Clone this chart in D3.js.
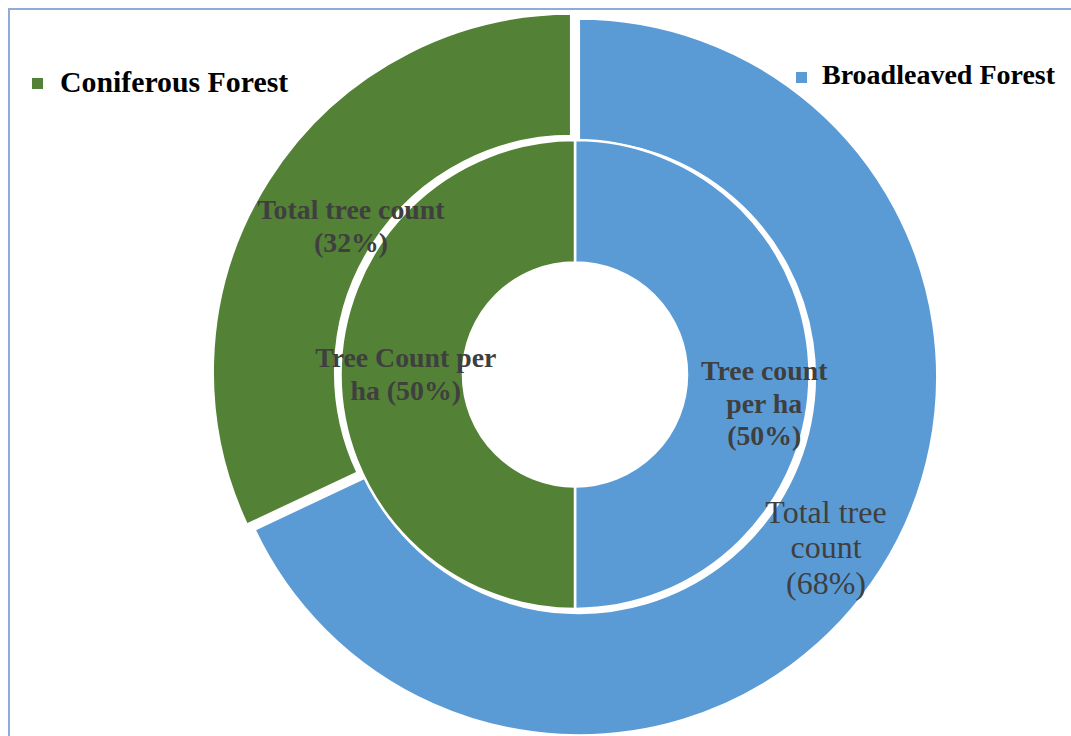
<!DOCTYPE html>
<html>
<head>
<meta charset="utf-8">
<script src="https://cdn.jsdelivr.net/npm/d3@7"></script>
<style>
  html, body { margin: 0; padding: 0; background: #fff; }
  svg { display: block; }
</style>
</head>
<body>
<svg id="chart" width="1071" height="736"></svg>
<script>
// ---- data ----
const categories = ["Broadleaved Forest", "Coniferous Forest"];
const innerValues = [50, 50];      // Tree count per ha (%)
const outerValues = [68, 32];      // Total tree count (%)
const innerLabels = [["Tree count", "per ha", "(50%)"], ["Tree Count per", "ha (50%)"]];
const outerLabels = [["Total tree", "count", "(68%)"], ["Total tree count", "(32%)"]];
const colors = ["#5b9bd5", "#538135"];

// ---- layout ----
const svg = d3.select("#chart");
const W = 1071, H = 736;
const cx = 575, cy = 374.5;
const rHole = 112, rInner = 234.5, rOuterIn = 236, rOuterOut = 358.5;
const explode = 4.5;
const textColor = "#3f3f3f";
const serif = "'Liberation Serif', 'Times New Roman', Times, serif";

// frame
svg.append("rect")
  .attr("x", 9).attr("y", 9)
  .attr("width", W + 20).attr("height", H + 20)
  .attr("fill", "none").attr("stroke", "#8faadc").attr("stroke-width", 2);

const pie = d3.pie().sort(null).value(d => d);
const color = d3.scaleOrdinal().domain(categories).range(colors);

const innerArcs = pie(innerValues);
const outerArcs = pie(outerValues);

const arcInner = d3.arc().innerRadius(rHole).outerRadius(rInner);
const arcOuter = d3.arc().innerRadius(rOuterIn).outerRadius(rOuterOut);

const g = svg.append("g").attr("transform", `translate(${cx},${cy})`);

// outer ring (exploded)
g.selectAll("path.outer").data(outerArcs).enter().append("path")
  .attr("class", "outer")
  .attr("d", arcOuter)
  .attr("transform", d => {
    const a = (d.startAngle + d.endAngle) / 2;
    return `translate(${Math.sin(a) * explode},${-Math.cos(a) * explode})`;
  })
  .attr("fill", (d, i) => color(categories[i]))
  .attr("stroke", "#fff").attr("stroke-width", 2.5);

// inner ring
g.selectAll("path.inner").data(innerArcs).enter().append("path")
  .attr("class", "inner")
  .attr("d", arcInner)
  .attr("fill", (d, i) => color(categories[i]))
  .attr("stroke", "#fff").attr("stroke-width", 2.5);

// labels
function drawLabel(arcGen, d, lines, nudge, size, weight, lh) {
  const c = arcGen.centroid(d);
  const x = c[0] + nudge[0], y = c[1] + nudge[1];
  const t = g.append("text")
    .attr("text-anchor", "middle")
    .attr("font-family", serif)
    .attr("font-size", size)
    .attr("font-weight", weight)
    .attr("fill", textColor);
  const n = lines.length;
  lines.forEach((ln, k) => {
    t.append("tspan")
      .attr("x", x)
      .attr("y", y + (k - (n - 1) / 2) * lh + size * 0.33)
      .text(ln);
  });
}
drawLabel(arcInner, innerArcs[0], innerLabels[0], [16, 29], 27.8, "bold", 32.5);
drawLabel(arcInner, innerArcs[1], innerLabels[1], [4, 0], 27.8, "bold", 32.5);
drawLabel(arcOuter, outerArcs[0], outerLabels[0], [0, 14], 32, "normal", 35.5);
drawLabel(arcOuter, outerArcs[1], outerLabels[1], [27, 11], 27.8, "bold", 32.5);

// legend
const legend = [
  { cat: categories[1], sx: 32, sy: 78, tx: 60, ty: 92, size: 29.8 },
  { cat: categories[0], sx: 796, sy: 72, tx: 822, ty: 84, size: 28 }
];
legend.forEach(l => {
  svg.append("rect").attr("x", l.sx).attr("y", l.sy).attr("width", 11).attr("height", 11)
    .attr("fill", color(l.cat));
  svg.append("text").attr("x", l.tx).attr("y", l.ty)
    .attr("font-family", serif).attr("font-size", l.size).attr("font-weight", "bold")
    .attr("fill", "#000").text(l.cat);
});
</script>
</body>
</html>
